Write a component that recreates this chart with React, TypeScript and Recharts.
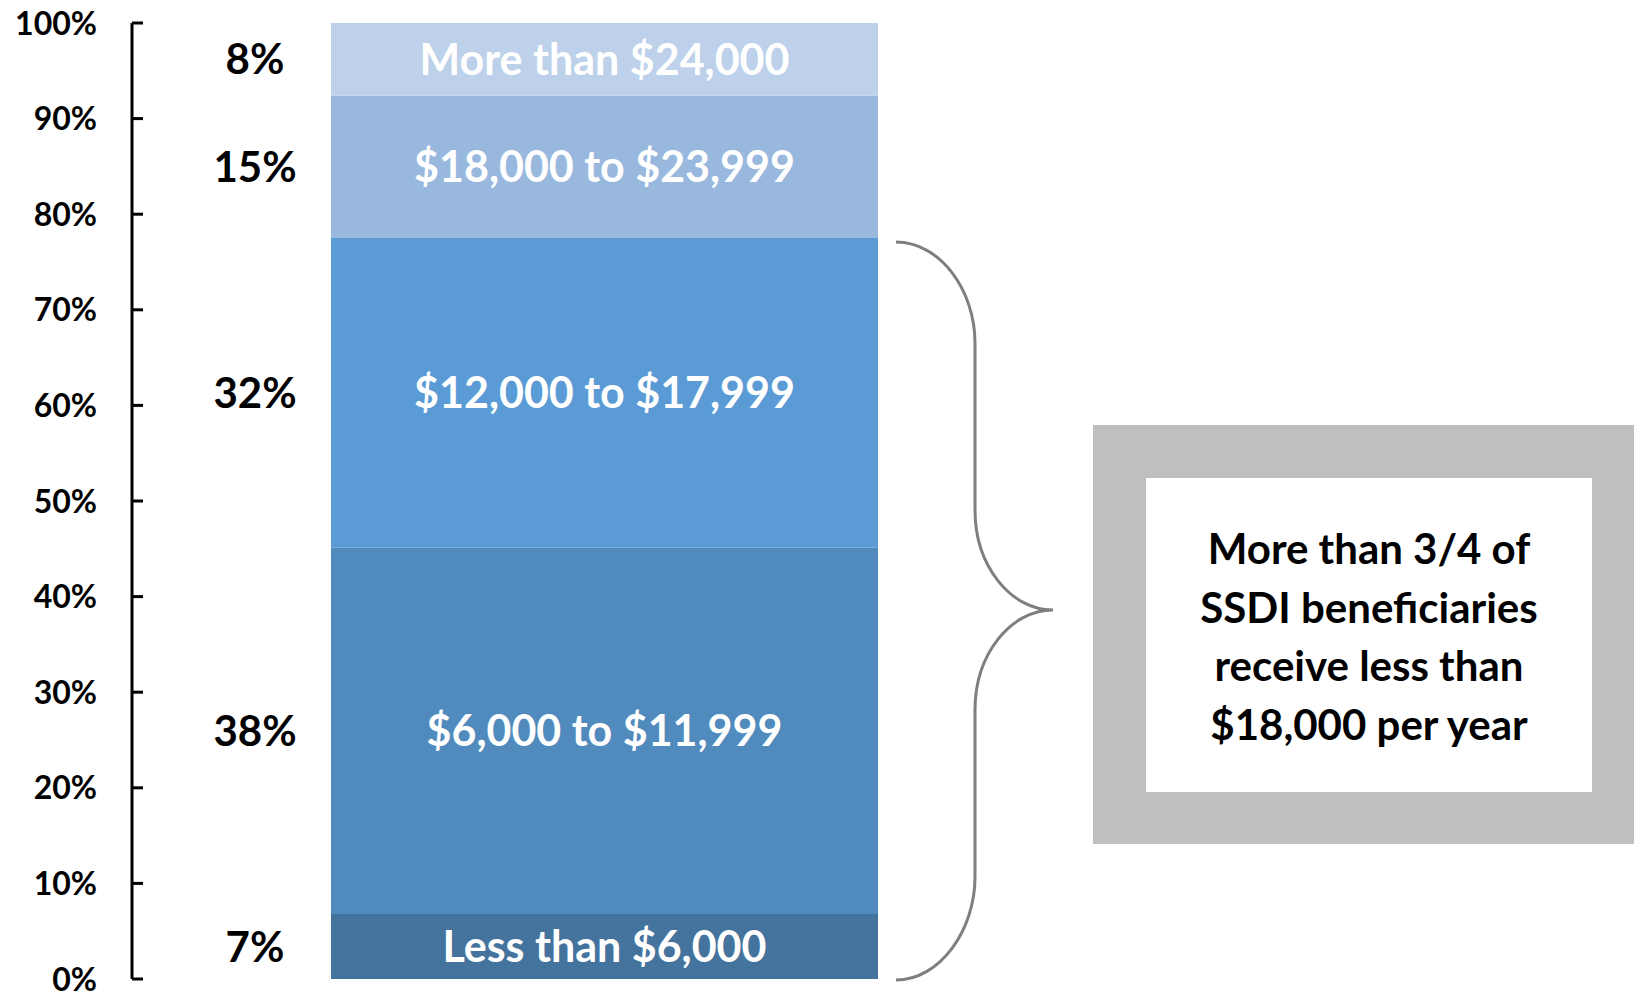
import React from 'react';
import { BarChart, Bar, XAxis, YAxis, LabelList } from 'recharts';

const categories = ['SSDI beneficiaries'];
const brackets = ['Less than $6,000', '$6,000 to $11,999', '$12,000 to $17,999', '$18,000 to $23,999', 'More than $24,000'];
const shares = [6.8, 38.3, 32.4, 14.9, 7.6];
const shareLabels = ['7%', '38%', '32%', '15%', '8%'];
const colors = ['#44739E', '#518ABD', '#5B9BD5', '#99B8DE', '#BDD1EA'];
const yTicks = [0, 10, 20, 30, 40, 50, 60, 70, 80, 90, 100];
const calloutLines = ['More than 3/4 of', 'SSDI beneficiaries', 'receive less than', '$18,000 per year'];

const data = categories.map((c) => {
  const row: Record<string, any> = { name: c };
  brackets.forEach((b, i) => {
    row['s' + i] = shares[i];
  });
  return row;
});

const FONT = 'Lato, "Open Sans", sans-serif';

const YTick = (props: any) => {
  const { x, y, payload } = props;
  return (
    <g>
      <line x1={x} x2={x + 11} y1={y} y2={y} stroke="#000" strokeWidth={3} />
      <text x={x - 35} y={y} dy="0.36em" textAnchor="end" fontFamily={FONT} fontWeight={700} fontSize={32} fill="#000">
        {payload.value}%
      </text>
    </g>
  );
};

const makeInside = (i: number) => (props: any) => {
  const { x, y, width, height } = props;
  return (
    <text x={x + width / 2} y={y + height / 2} dy="0.36em" textAnchor="middle" fontFamily={FONT} fontWeight={700} fontSize={43} fill="#fff">
      {brackets[i]}
    </text>
  );
};

const makeOutside = (i: number) => (props: any) => {
  const { x, y, height } = props;
  return (
    <text x={x - 76} y={y + height / 2} dy="0.36em" textAnchor="middle" fontFamily={FONT} fontWeight={700} fontSize={42} fill="#000">
      {shareLabels[i]}
    </text>
  );
};

export default function App() {
  return (
    <div style={{ position: 'absolute', left: 0, top: 0, width: 1634, height: 991, background: '#fff', overflow: 'hidden' }}>
      <BarChart width={1634} height={991} data={data} margin={{ top: 23, right: 557, bottom: 12, left: 0 }}>
        <XAxis dataKey="name" hide />
        <YAxis
          width={132}
          domain={[0, 100]}
          ticks={yTicks}
          interval={0}
          tickSize={0}
          tickMargin={0}
          tickLine={false}
          axisLine={{ stroke: '#000', strokeWidth: 3 }}
          tick={<YTick />}
        />
        {brackets.map((b, i) => (
          <Bar key={b} dataKey={'s' + i} name={b} stackId="a" fill={colors[i]} barSize={547} isAnimationActive={false}>
            <LabelList dataKey={'s' + i} content={makeInside(i)} />
            <LabelList dataKey={'s' + i} content={makeOutside(i)} />
          </Bar>
        ))}
      </BarChart>
      <svg width={1634} height={991} style={{ position: 'absolute', left: 0, top: 0, pointerEvents: 'none' }}>
        <path
          d="M896,242 C940,242 975,290 975,343 L975,510 C975,565 1010,610 1053,610 C1010,610 975,655 975,710 L975,877 C975,930 940,980 896,980"
          fill="none"
          stroke="#7F7F7F"
          strokeWidth={3}
        />
        <rect x={1093} y={425} width={560} height={419} fill="#BFBFBF" />
        <rect x={1146} y={478} width={446} height={314} fill="#FFFFFF" />
        {calloutLines.map((t, i) => (
          <text key={t} x={1369} y={549 + i * 58.5} dy="0.36em" textAnchor="middle" fontFamily={FONT} fontWeight={700} fontSize={42} fill="#000">
            {t}
          </text>
        ))}
      </svg>
    </div>
  );
}
